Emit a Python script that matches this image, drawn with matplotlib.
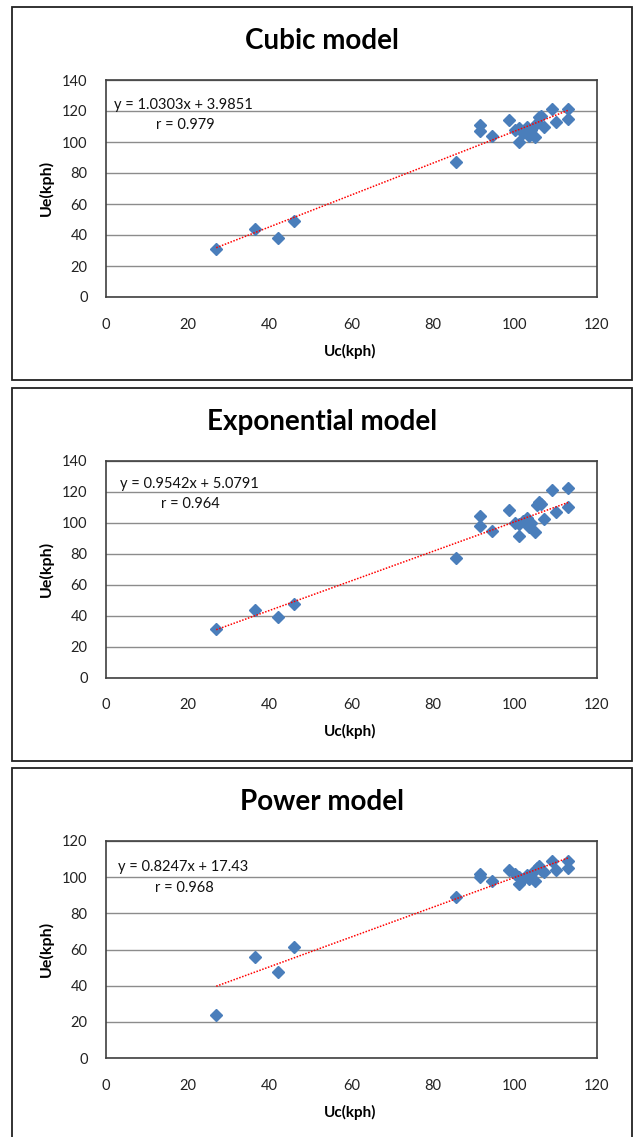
import numpy as np
import matplotlib
matplotlib.use("Agg")
import matplotlib.pyplot as plt
from matplotlib.patches import Rectangle

# Uc(kph), measured/computed speed - same observations in all three panels
uc = [27.0, 36.5, 42.0, 46.0, 85.5, 91.5, 91.5, 94.5, 98.5, 100.0, 101.0, 101.0,
      102.0, 103.0, 103.5, 104.0, 105.0, 105.5, 106.0, 106.5, 107.0, 109.0,
      110.0, 113.0, 113.0]

# Ue(kph) for each model
ue_cubic = [31, 44, 38, 49, 87, 111, 107, 104, 114, 108, 100, 109,
            106, 110, 104, 108, 103, 112, 116, 117, 110, 121, 113, 121, 115]
ue_expo = [31, 43.5, 39, 47.5, 77, 104, 98, 94.5, 108, 100, 91, 99,
           101, 103, 97, 100, 94, 111, 113, 112, 102, 121, 107, 122, 110]
ue_power = [24, 56, 47.5, 61.5, 89, 102, 100, 98, 104, 102, 96, 100,
            99, 101, 99, 102, 98, 105, 106, 104, 103, 109, 104, 109, 105]

titles = ["Cubic model", "Exponential model", "Power model"]
slopes = [1.0303, 0.9542, 0.8247]
intercepts = [3.9851, 5.0791, 17.43]
eq_texts = ["y = 1.0303x + 3.9851", "y = 0.9542x + 5.0791", "y = 0.8247x + 17.43"]
r_texts = ["r = 0.979", "r = 0.964", "r = 0.968"]
y_max = [140, 140, 120]

W, H = 633, 1137
fig = plt.figure(figsize=(W / 100, H / 100), dpi=100)
plt.rcParams['font.family'] = ['Lato', 'DejaVu Sans']

blue = '#4a7ebb'
step = 380.5
# where the equation labels sit (axes coords)
eq_pos = [(0.017, 0.885), (0.029, 0.894), (0.025, 0.882)]
r_pos = [(0.102, 0.793), (0.112, 0.800), (0.100, 0.785)]

for i in range(3):
    off = step * i
    # panel frame
    top_frame = 7 + off
    bot_frame = min(380 + off, H + 5)
    fig.patches.append(Rectangle((12 / W, 1 - bot_frame / H), 620 / W,
                                 (bot_frame - top_frame) / H,
                                 transform=fig.transFigure, fill=False,
                                 edgecolor='#222222', linewidth=1.3))

    ax_top = 80 + off
    ax_bot = 297 + off
    ax = fig.add_axes([105.8 / W, 1 - ax_bot / H, 490.9 / W, (ax_bot - ax_top) / H])

    ax.plot(uc, [ue_cubic, ue_expo, ue_power][i], linestyle='none', marker='D',
            markersize=6.5, color=blue, zorder=3)

    xs = np.array([min(uc), max(uc)])
    ax.plot(xs, slopes[i] * xs + intercepts[i], color='red',
            linestyle=(0, (1, 1)), linewidth=1.1, zorder=4)

    ax.set_xlim(0, 120)
    ax.set_ylim(0, y_max[i])
    ax.set_xticks(range(0, 121, 20))
    ax.set_yticks(range(0, y_max[i] + 1, 20))
    ax.tick_params(length=0, labelsize=10.5, colors='#222222')
    ax.tick_params(axis='y', pad=13)
    ax.tick_params(axis='x', pad=15)
    ax.grid(axis='y', color='#8c8c8c', linewidth=1)
    ax.set_axisbelow(True)
    for s in ax.spines.values():
        s.set_color('#404040')
        s.set_linewidth(1.2)

    ax.set_xlabel("Uc(kph)", fontsize=11, fontweight='bold')
    ax.set_ylabel("Ue(kph)", fontsize=11.5, fontweight='bold')
    ax.xaxis.set_label_coords(0.497, -0.215)
    ax.yaxis.set_label_coords(-0.105, 0.502)

    ax.text(eq_pos[i][0], eq_pos[i][1], eq_texts[i], transform=ax.transAxes,
            fontsize=10.5, va='center', ha='left', color='#111111')
    ax.text(r_pos[i][0], r_pos[i][1], r_texts[i], transform=ax.transAxes,
            fontsize=10.5, va='center', ha='left', color='#111111')

    fig.text(322 / W, 1 - (41 + off) / H, titles[i], fontsize=20,
             fontweight='bold', ha='center', va='center')

fig.savefig("out.png", dpi=100, facecolor='white')
